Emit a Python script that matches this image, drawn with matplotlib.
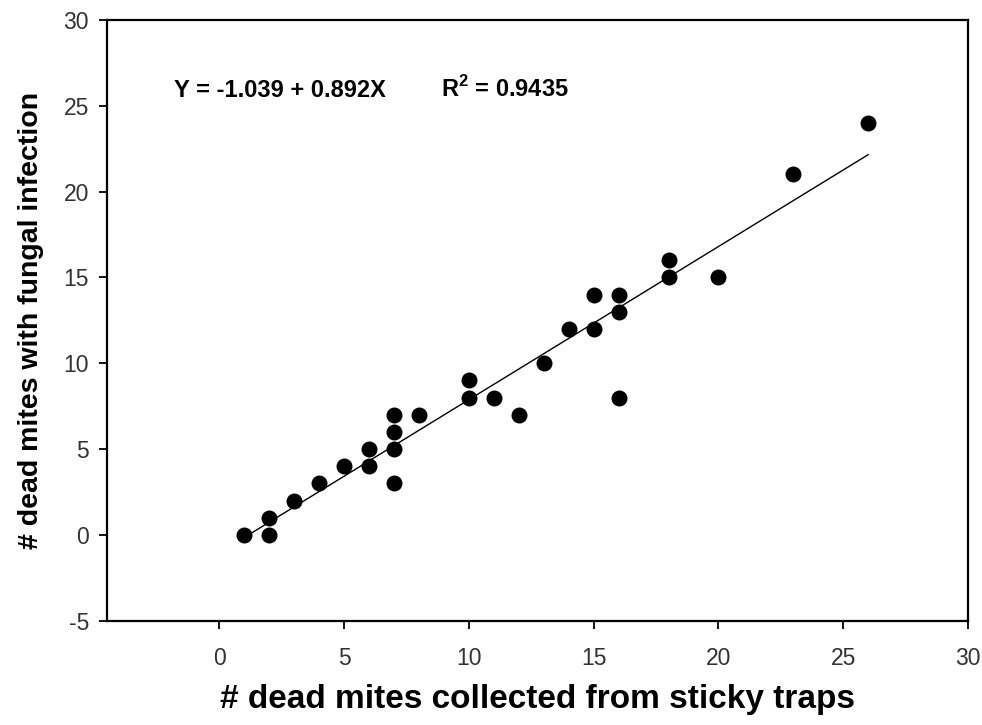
import numpy as np
import matplotlib.pyplot as plt

plt.rcParams['font.family'] = ['Liberation Sans', 'DejaVu Sans']
plt.rcParams['mathtext.fontset'] = 'custom'
plt.rcParams['mathtext.rm'] = 'Liberation Sans:bold'
plt.rcParams['mathtext.bf'] = 'Liberation Sans:bold'
plt.rcParams['axes.unicode_minus'] = False

# dead mites on sticky traps vs dead mites with fungal infection
trap_mites = [1, 2, 2, 3, 4, 5, 6, 6, 7, 7, 7, 7, 8, 10, 10, 11, 12, 13, 14,
              15, 15, 16, 16, 16, 18, 18, 20, 23, 26]
infected_mites = [0, 0, 1, 2, 3, 4, 4, 5, 3, 5, 6, 7, 7, 8, 9, 8, 7, 10, 12,
                  12, 14, 13, 14, 8, 15, 16, 15, 21, 24]

intercept = -1.039
slope = 0.892
r_squared = 0.9435

fig = plt.figure(figsize=(9.82, 7.25), dpi=100)
ax = fig.add_axes([0.109, 0.1438, 0.8767, 0.8286])

xs = np.array([min(trap_mites), max(trap_mites)])
ax.plot(xs, intercept + slope * xs, color='black', linewidth=1.0, zorder=2)
ax.plot(trap_mites, infected_mites, 'o', color='black', markersize=11.5,
        markeredgewidth=0, zorder=3)

ax.set_xlim(-4.5, 30)
ax.set_ylim(-5, 30)
ax.set_xticks([0, 5, 10, 15, 20, 25, 30])
ax.set_yticks([-5, 0, 5, 10, 15, 20, 25, 30])

for s in ax.spines.values():
    s.set_linewidth(1.6)
ax.tick_params(direction='out', length=6, width=1.3, labelsize=16.5,
               labelcolor='#333333')
ax.tick_params(axis='x', pad=13)
ax.tick_params(axis='y', pad=7)

ax.set_xlabel('# dead mites collected from sticky traps', fontsize=24,
              fontweight='bold', labelpad=10)
ax.set_ylabel('# dead mites with fungal infection', fontsize=20.5,
              fontweight='bold', labelpad=14)

ax.text(-1.8, 25.5, 'Y = %.3f + %.3fX' % (intercept, slope), fontsize=17,
        fontweight='bold', va='baseline')
ax.text(8.9, 25.5, r'R$^{\mathbf{2}}$ = %.4f' % r_squared, fontsize=17,
        fontweight='bold', va='baseline')

fig.savefig('out.png', dpi=100)
